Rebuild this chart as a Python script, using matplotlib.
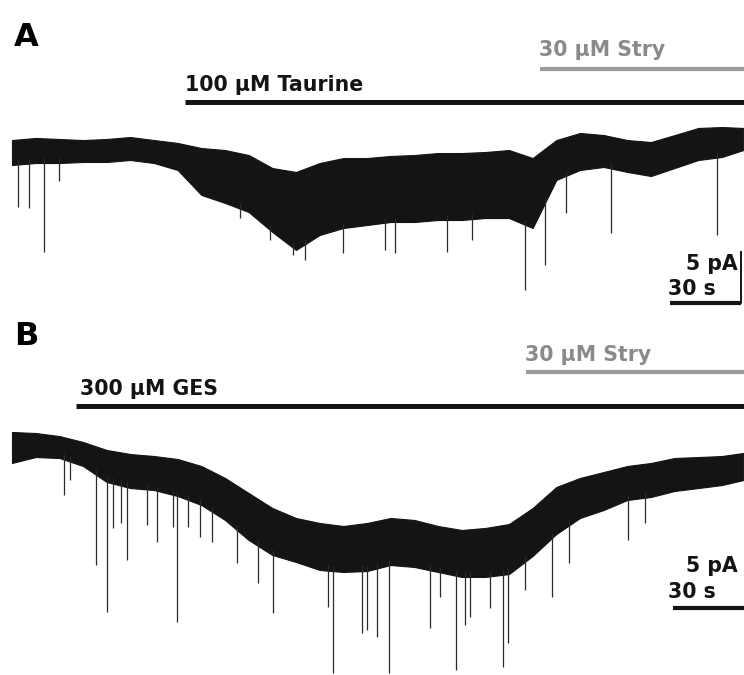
import numpy as np
import matplotlib.pyplot as plt

plt.rcParams['font.family'] = ['DejaVu Sans']

# ---- data (time in s, current in pA, 0 = start baseline) ----
time_s = [0, 10, 20, 30, 40, 50, 60, 70, 80, 90, 100, 110, 120, 130, 140, 150,
          160, 170, 180, 190, 200, 210, 220, 230, 240, 250, 260, 270, 280, 290, 300, 309]

# panel A: taurine
top_a = [1.15, 1.35, 1.25, 1.15, 1.25, 1.44, 1.15, 0.87, 0.38, 0.19, -0.29, -1.54,
         -1.92, -1.06, -0.58, -0.58, -0.38, -0.29, -0.10, -0.10, 0.00, 0.19, -0.58, 1.15,
         1.83, 1.63, 1.15, 0.96, 1.63, 2.31, 2.40, 2.31]
bot_a = [-1.25, -1.06, -1.06, -0.96, -0.96, -0.77, -1.06, -1.73, -4.13, -4.90, -5.77, -7.69,
         -9.42, -7.98, -7.31, -7.02, -6.73, -6.73, -6.54, -6.54, -6.35, -6.35, -7.31, -2.69,
         -1.73, -1.44, -1.92, -2.31, -1.54, -0.77, -0.48, 0.19]
spike_t_a = [2.5, 7.2, 13.5, 19.9, 96.3, 109.0, 118.7, 123.8, 139.8, 157.6, 161.8,
             183.8, 194.3, 216.7, 225.2, 234.1, 253.1, 297.8]
spike_pa_a = [-5.29, -5.38, -9.62, -2.79, -6.35, -8.46, -9.90, -10.38, -9.71, -9.42, -9.71,
              -9.62, -8.46, -13.27, -10.87, -5.87, -7.79, -7.98]

# panel B: GES
top_b = [1.54, 1.44, 1.15, 0.58, -0.19, -0.58, -0.77, -1.06, -1.73, -2.88, -4.33, -5.77,
         -6.73, -7.21, -7.50, -7.21, -6.73, -6.92, -7.50, -7.88, -7.69, -7.31, -5.77, -3.75,
         -2.88, -2.31, -1.73, -1.44, -0.96, -0.87, -0.77, -0.48]
bot_b = [-1.44, -0.87, -0.96, -1.73, -3.27, -3.85, -4.04, -4.62, -5.48, -6.92, -8.85, -10.29,
         -10.96, -11.73, -11.92, -11.83, -11.25, -11.44, -11.92, -12.40, -12.40, -12.12, -10.38, -8.27,
         -6.73, -5.96, -5.00, -4.71, -4.13, -3.85, -3.56, -3.08]
spike_t_b = [22.0, 24.5, 35.5, 40.1, 42.7, 46.1, 48.6, 57.0, 61.3, 68.0, 69.7, 74.4, 79.4,
             84.5, 95.1, 103.9, 110.3, 133.5, 135.6, 147.9, 150.0, 154.2, 159.3, 176.6,
             180.8, 187.6, 191.4, 193.5, 201.9, 207.4, 209.6, 216.7, 228.1, 235.3, 260.2, 267.4]
spike_pa_b = [-4.52, -3.08, -11.25, -15.77, -7.69, -7.21, -10.77, -7.40, -9.04, -7.60, -16.73,
              -7.60, -8.56, -9.04, -11.06, -12.98, -15.87, -15.29, -21.63, -17.79, -17.50,
              -18.17, -21.63, -17.31, -14.33, -21.35, -17.02, -16.25, -15.38, -21.06, -18.75,
              -13.65, -14.33, -11.06, -8.85, -7.21]

# drug applications (start time, s) and recording end
taurine_on = 73
stry_on_a = 223
ges_on = 27
stry_on_b = 217
t_end = 309.3

# scale bars
scale_t = 30
scale_pa = 5

# ---- layout (figure pixels) ----
W, H = 744, 675
PX_PER_S = 71 / 30
PX_PER_PA = 10.4
X0 = 12  # px where t = 0
SPLIT = 330  # px between panels

fig = plt.figure(figsize=(W / 100, H / 100), dpi=100)
axA = fig.add_axes([0, (H - SPLIT) / H, 1, SPLIT / H])
axB = fig.add_axes([0, 0, 1, (H - SPLIT) / H])


def px_t(px):
    return (px - X0) / PX_PER_S


def setup(ax, y0, ytop, ybot):
    # y0 = px of 0 pA, ytop/ybot = px of axes edges
    ax.set_xlim(px_t(0), px_t(W))
    ax.set_ylim((y0 - ybot) / PX_PER_PA, (y0 - ytop) / PX_PER_PA)
    ax.axis('off')
    return lambda py: (y0 - py) / PX_PER_PA


def draw_trace(ax, top, bot, st, sp):
    ax.fill_between(time_s, bot, top, color='#141414', lw=0.8, edgecolor='#141414')
    base = np.interp(st, time_s, bot) + 0.5
    ax.vlines(st, sp, base, color='#2a2a2a', lw=0.9)


lbl = dict(fontsize=14.8, fontweight='bold', va='baseline', ha='left')
grey_txt = '#8a8a8a'
grey_bar = '#9c9c9c'

# panel A
yA = setup(axA, 152, 0, SPLIT)
draw_trace(axA, top_a, bot_a, spike_t_a, spike_pa_a)
axA.text(px_t(14), yA(46), 'A', fontsize=23, fontweight='bold', va='baseline')
axA.plot([taurine_on, t_end], [yA(101.5)] * 2, color='#141414', lw=3.6, solid_capstyle='butt')
axA.text(px_t(185), yA(91), '100 µM Taurine', color='#141414', **lbl)
axA.plot([stry_on_a, t_end], [yA(69)] * 2, color=grey_bar, lw=3.0, solid_capstyle='butt')
axA.text(px_t(539), yA(56), '30 µM Stry', color=grey_txt, **lbl)
# scale bar A
sx = px_t(741)
axA.plot([sx - scale_t, sx, sx], [yA(303), yA(303), yA(303) + scale_pa], color='#141414',
         lw=1.4, solid_capstyle='butt')
axA.plot([sx - scale_t, sx], [yA(303)] * 2, color='#141414', lw=3, solid_capstyle='butt')
axA.text(px_t(738), yA(270), '5 pA', color='#141414', fontsize=14.8, fontweight='bold',
         ha='right', va='baseline')
axA.text(px_t(668), yA(295), '30 s', color='#141414', **lbl)

# panel B
yB = setup(axB, 448, SPLIT, H)
draw_trace(axB, top_b, bot_b, spike_t_b, spike_pa_b)
axB.text(px_t(14), yB(345), 'B', fontsize=23, fontweight='bold', va='baseline')
axB.plot([ges_on, t_end], [yB(406)] * 2, color='#141414', lw=3.6, solid_capstyle='butt')
axB.text(px_t(80), yB(395), '300 µM GES', color='#141414', **lbl)
axB.plot([stry_on_b, t_end], [yB(372)] * 2, color=grey_bar, lw=3.0, solid_capstyle='butt')
axB.text(px_t(525), yB(361), '30 µM Stry', color=grey_txt, **lbl)
# scale bar B
axB.plot([px_t(673), px_t(673) + scale_t], [yB(608)] * 2, color='#141414', lw=3,
         solid_capstyle='butt')
axB.text(px_t(738), yB(572), '5 pA', color='#141414', fontsize=14.8, fontweight='bold',
         ha='right', va='baseline')
axB.text(px_t(668), yB(598), '30 s', color='#141414', **lbl)

fig.savefig('out.png', dpi=100)
